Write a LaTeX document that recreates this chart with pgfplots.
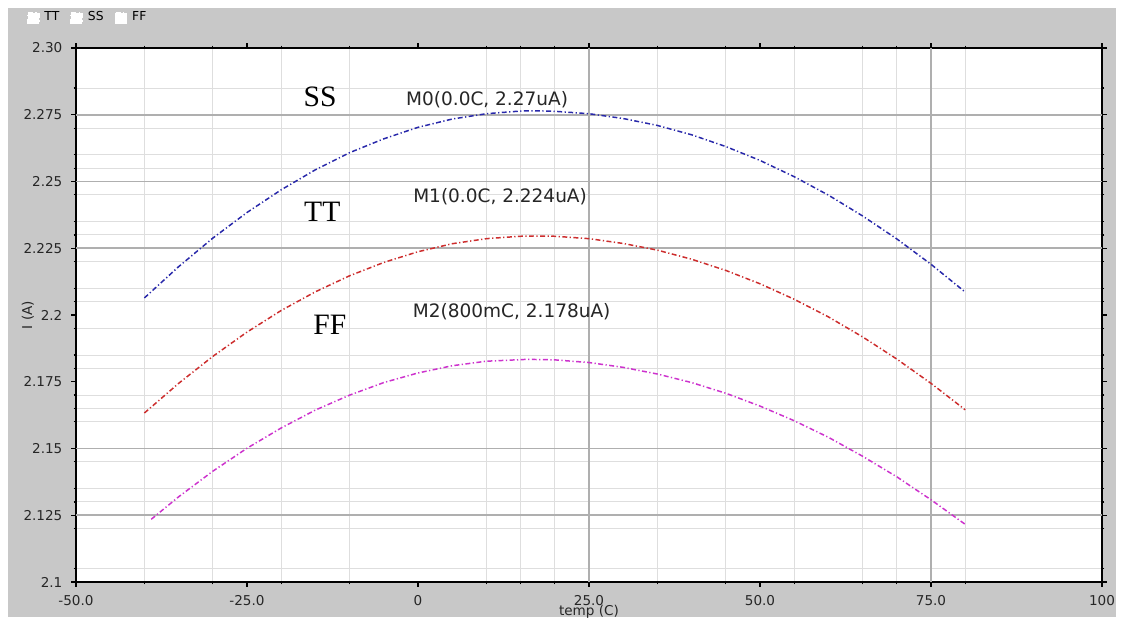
\documentclass[border=0pt]{standalone}
\usepackage{pgfplots}
\pgfplotsset{compat=1.18}
\usepackage{fontspec}
\setmainfont{DejaVu Sans}
\newfontfamily\serifss{Liberation Serif}
\definecolor{panel}{RGB}{200,200,200}
\definecolor{ssblue}{RGB}{40,40,170}
\definecolor{ttred}{RGB}{205,45,45}
\definecolor{ffmag}{RGB}{205,50,205}
\definecolor{majgrid}{RGB}{175,175,175}
\definecolor{mingrid}{RGB}{222,222,222}
\begin{document}
\begin{tikzpicture}
\useasboundingbox (0,0) rectangle (16cm,8.862cm);
\fill[white] (0,0) rectangle (16cm,8.862cm);
\fill[panel] (0.114cm,0.07cm) rectangle (15.9cm,8.748cm);
\begin{axis}[
  scale only axis, width=14.618cm, height=7.608cm,
  at={(1.0828cm,0.5699cm)}, anchor=south west,
  axis background/.style={fill=white},
  xmin=-50, xmax=100, ymin=2.1, ymax=2.3,
  xtick={-50,-25,0,25,50,75,100},
  xticklabels={-50.0,-25.0,0,25.0,50.0,75.0,100},
  ytick={2.1,2.125,2.15,2.175,2.2,2.225,2.25,2.275,2.3},
  yticklabels={2.1,2.125,2.15,2.175,2.2,2.225,2.25,2.275,2.30},
  minor xtick={-40,-30,-20,-10,10,15,20,35,45,55,65,70,80},
  minor ytick={2.105,2.12,2.13,2.135,2.145,2.16,2.165,2.17,2.18,2.185,2.195,2.205,2.21,2.22,2.23,2.235,2.245,2.255,2.26,2.27,2.285},
  xminorgrids, yminorgrids,
  minor grid style={mingrid, line width=0.4pt},
  extra x ticks={25,75}, extra x tick labels={},
  extra x tick style={grid=major, major grid style={majgrid, line width=0.7pt}},
  extra y ticks={2.125,2.15,2.225,2.25,2.275}, extra y tick labels={},
  extra y tick style={grid=major, major grid style={majgrid, line width=0.7pt}},
  axis line style={black, line width=0.8pt},
  tick align=outside, major tick length=2pt, minor tick length=1pt,
  tick style={black, line width=0.5pt},
  tick label style={font=\fontsize{5.5}{6}\selectfont, text=black!85},
  /pgf/number format/assume math mode=true,
  xlabel={temp (C)}, ylabel={I (A)},
  label style={font=\fontsize{5.5}{6}\selectfont, text=black!85},
  xlabel style={at={(axis description cs:0.5,-0.056)}, anchor=center},
  ylabel style={at={(axis description cs:-0.047,0.5)}, anchor=center},
  legend style={at={(axis description cs:-0.0478,1.056)}, anchor=west, draw=none, fill=none,
    font=\fontsize{5}{5}\selectfont, inner sep=0pt, outer sep=0pt,
    /tikz/every even column/.append style={column sep=2.5pt}},
  legend columns=3,
  legend image code/.code={\fill[white] (0pt,-2.2pt) rectangle (4.5pt,2.2pt);},
]
\addplot[ttred, line width=0.6pt, dash pattern=on 2pt off 1pt on 0.5pt off 1pt] coordinates {
(-40,2.1633) (-35,2.1744) (-30,2.1845) (-25,2.1936) (-20,2.2017) (-15,2.2087) (-10,2.2147) (-5,2.2197) (0,2.2237) (5,2.2267) (10,2.2286) (15,2.2295) (17,2.2296) (20,2.2295) (25,2.2286) (30,2.2268) (35,2.2243) (40,2.2209) (45,2.2167) (50,2.2117) (55,2.2059) (60,2.1993) (65,2.1918) (70,2.1835) (75,2.1744) (80,2.1645)};
\addlegendentry{TT}
\addplot[ssblue, line width=0.6pt, dash pattern=on 2pt off 1pt on 0.5pt off 1pt] coordinates {
(-40,2.2064) (-35,2.2181) (-30,2.2288) (-25,2.2384) (-20,2.2469) (-15,2.2544) (-10,2.2608) (-5,2.2660) (0,2.2703) (5,2.2734) (10,2.2754) (15,2.2764) (17,2.2765) (20,2.2763) (25,2.2754) (30,2.2736) (35,2.2710) (40,2.2675) (45,2.2631) (50,2.2579) (55,2.2518) (60,2.2449) (65,2.2371) (70,2.2285) (75,2.2190) (80,2.2086)};
\addlegendentry{SS}
\addplot[ffmag, line width=0.6pt, dash pattern=on 2pt off 1pt on 0.5pt off 1pt] coordinates {
(-39,2.1235) (-35,2.1319) (-30,2.1415) (-25,2.1501) (-20,2.1577) (-15,2.1644) (-10,2.1700) (-5,2.1747) (0,2.1783) (5,2.1810) (10,2.1827) (16,2.1834) (20,2.1832) (25,2.1822) (30,2.1804) (35,2.1779) (40,2.1747) (45,2.1707) (50,2.1659) (55,2.1604) (60,2.1542) (65,2.1471) (70,2.1394) (75,2.1308) (80,2.1216)};
\addlegendentry{FF}
\node[font=\fontsize{7.5}{8}\selectfont, text=black!85] at (axis cs:10.1,2.2805) {M0(0.0C, 2.27uA)};
\node[font=\fontsize{7.5}{8}\selectfont, text=black!85] at (axis cs:12.0,2.2442) {M1(0.0C, 2.224uA)};
\node[font=\fontsize{7.5}{8}\selectfont, text=black!85] at (axis cs:13.7,2.2011) {M2(800mC, 2.178uA)};
\node[font=\serifss\fontsize{12}{12}\selectfont] at (axis cs:-14.3,2.2816) {SS};
\node[font=\serifss\fontsize{12}{12}\selectfont] at (axis cs:-14.0,2.2386) {TT};
\node[font=\serifss\fontsize{12}{12}\selectfont] at (axis cs:-12.9,2.1963) {FF};
\end{axis}
\end{tikzpicture}
\end{document}
